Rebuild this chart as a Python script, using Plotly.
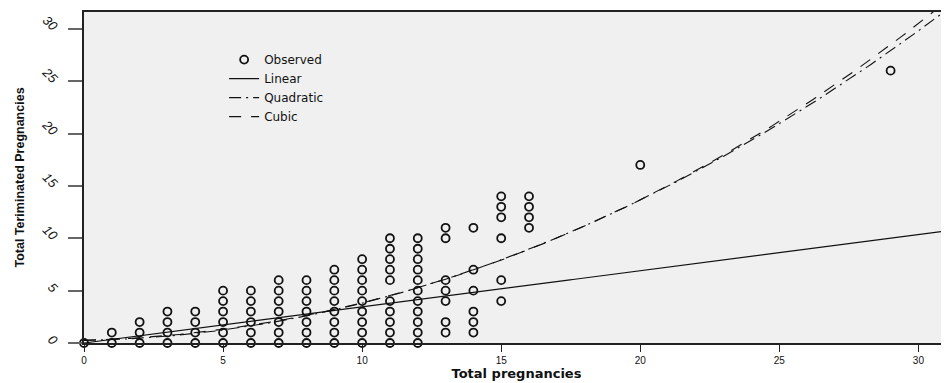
import numpy as np
import plotly.graph_objects as go

# ---- Observed data (one list of y-values per x column) ----
col_pregnancies = [0, 1, 2, 3, 4, 5, 6, 7, 8, 9, 10, 11, 12, 13, 14, 15, 16, 20, 29]
col_terminated = [
    [0],
    [0, 1],
    [0, 1, 2],
    [0, 1, 2, 3],
    [0, 1, 2, 3],
    [0, 1, 2, 3, 4, 5],
    [0, 1, 2, 3, 4, 5],
    [0, 1, 2, 3, 4, 5, 6],
    [0, 1, 2, 3, 4, 5, 6],
    [0, 1, 2, 3, 4, 5, 6, 7],
    [0, 1, 2, 3, 4, 5, 6, 7, 8],
    [0, 1, 2, 3, 4, 6, 7, 8, 9, 10],
    [0, 1, 2, 3, 4, 5, 6, 7, 8, 9, 10],
    [1, 2, 4, 5, 6, 10, 11],
    [1, 2, 3, 5, 7, 11],
    [4, 6, 10, 12, 13, 14],
    [11, 12, 13, 14],
    [17],
    [26],
]

# ---- Fitted model coefficients (constant, x, x^2, x^3) ----
linear_coef = [0.0, 0.345]
quadratic_coef = [0.25, 0.04, 0.0315]
cubic_coef = [0.25, 0.069, 0.0277, 0.00012]

x_ticks = [0, 5, 10, 15, 20, 25, 30]
y_ticks = [0, 5, 10, 15, 20, 25, 30]
x_range = [0, 31.1]
y_range = [0, 31.6]

obs_x = [x for x, ys in zip(col_pregnancies, col_terminated) for _ in ys]
obs_y = [y for ys in col_terminated for y in ys]

grid = np.linspace(x_range[0], x_range[1], 300)


def poly(coef, x):
    return sum(c * x ** i for i, c in enumerate(coef))


fig = go.Figure()
fig.add_trace(go.Scatter(
    x=obs_x, y=obs_y, mode="markers", name="Observed",
    marker=dict(symbol="circle-open", size=8, color="#111",
                line=dict(width=1.8, color="#111")),
    cliponaxis=False,
))
fig.add_trace(go.Scatter(
    x=grid, y=poly(linear_coef, grid), mode="lines", name="Linear",
    line=dict(color="#111", width=1.1),
))
fig.add_trace(go.Scatter(
    x=grid, y=poly(quadratic_coef, grid), mode="lines", name="Quadratic",
    line=dict(color="#111", width=1.1, dash="12px,5px,2px,5px"),
))
fig.add_trace(go.Scatter(
    x=grid, y=poly(cubic_coef, grid), mode="lines", name="Cubic",
    line=dict(color="#111", width=1.1, dash="12px,10px"),
))

# page body has an 8px margin: figure is 941x375 so it fills the 949x383 window
fig.update_layout(
    width=941, height=375,
    margin=dict(l=76, r=0, t=4, b=40),
    paper_bgcolor="white",
    plot_bgcolor="#f0f0f0",
    font=dict(family="Liberation Sans, Arial, sans-serif", color="#111"),
    showlegend=True,
    legend=dict(
        x=0.162, y=0.90, xanchor="left", yanchor="top",
        bgcolor="rgba(0,0,0,0)",
        font=dict(family="DejaVu Sans", size=12, color="#111"),
        tracegroupgap=0, itemwidth=30,
    ),
)
fig.update_xaxes(
    range=x_range, tickvals=x_ticks, ticktext=[str(v) for v in x_ticks],
    showline=True, linecolor="#222", linewidth=1.5, mirror=True,
    ticks="outside", ticklen=7, tickcolor="#222", tickwidth=1.2,
    tickfont=dict(size=10, family="Liberation Sans, Arial"),
    showgrid=False, zeroline=False,
    title=dict(text="<b>Total pregnancies</b>",
               font=dict(size=13, family="DejaVu Sans"), standoff=1),
)
fig.update_yaxes(
    range=y_range, tickvals=y_ticks, ticktext=[str(v) for v in y_ticks],
    showline=True, linecolor="#222", linewidth=1.5,
    ticks="outside", ticklen=14, tickcolor="#666", tickwidth=2,
    tickangle=45, ticklabelstandoff=9,
    tickfont=dict(size=13, style="italic", family="Liberation Sans, Arial"),
    showgrid=False, zeroline=False,
    title=dict(text="<b>Total Teriminated Pregnancies</b>",
               font=dict(size=12.5, family="Liberation Sans, Arial"), standoff=12),
)

fig.write_html("out.html")
